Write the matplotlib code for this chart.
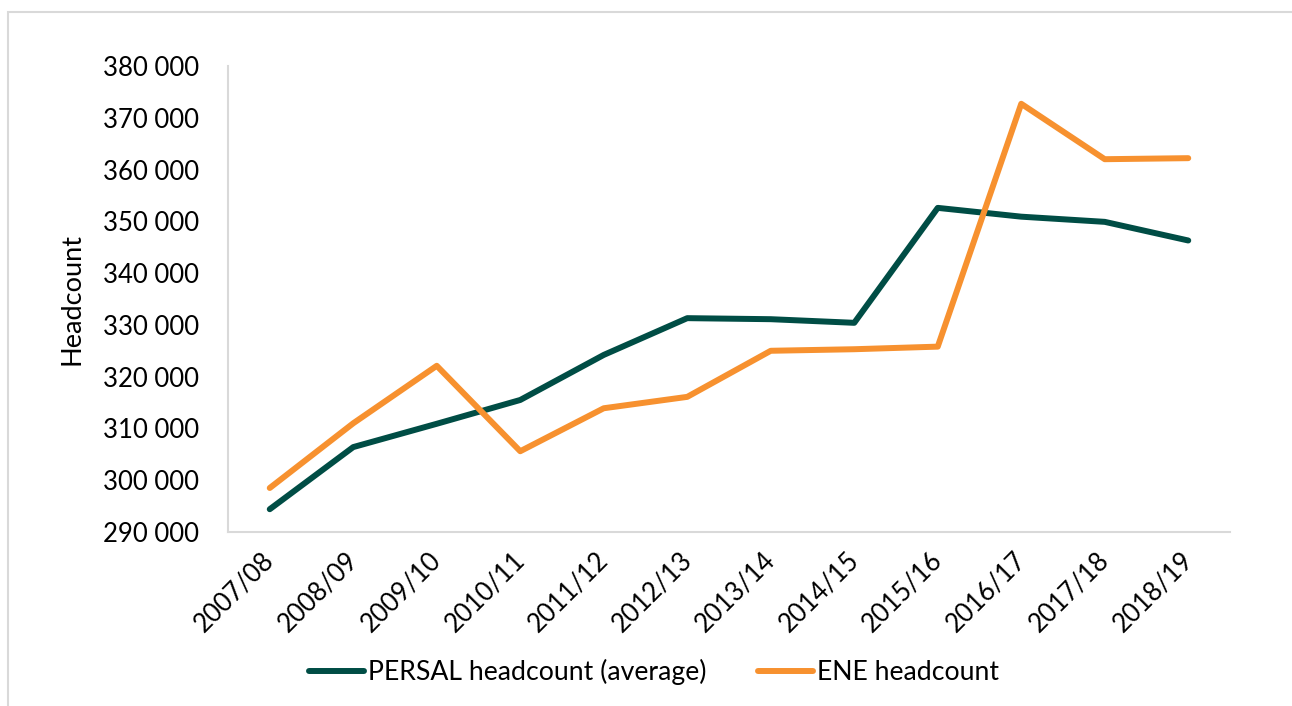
import matplotlib.pyplot as plt
import matplotlib.transforms as mtransforms
from matplotlib.patches import Rectangle
from matplotlib.ticker import FuncFormatter

years = ["2007/08", "2008/09", "2009/10", "2010/11", "2011/12", "2012/13",
         "2013/14", "2014/15", "2015/16", "2016/17", "2017/18", "2018/19"]
persal = [294400, 306400, 310900, 315500, 324200, 331300,
          331100, 330400, 352600, 350900, 349900, 346300]
ene = [298500, 311000, 322100, 305600, 313900, 316100,
       325000, 325300, 325800, 372700, 362000, 362200]

plt.rcParams["font.family"] = ["Lato", "DejaVu Sans"]

fig = plt.figure(figsize=(12.92, 7.06), dpi=100)
ax = fig.add_axes([228 / 1292, 1 - 532 / 706, (1230 - 228) / 1292, (532 - 66) / 706])

x = range(len(years))
ax.plot(x, persal, color="#004D45", linewidth=4.3, solid_capstyle="round",
        label="PERSAL headcount (average)")
ax.plot(x, ene, color="#F7912F", linewidth=4.3, solid_capstyle="round",
        label="ENE headcount")

ax.set_xlim(-0.5, len(years) - 0.5)
ax.set_ylim(290000, 380000)
ax.set_yticks(range(290000, 380001, 10000))
ax.yaxis.set_major_formatter(FuncFormatter(lambda v, p: f"{int(v):,}".replace(",", " ")))
ax.set_xticks(list(x))
ax.set_xticklabels(years, rotation=45, ha="right", rotation_mode="anchor")
ax.tick_params(axis="both", length=0, labelsize=18.5, colors="black")
ax.tick_params(axis="y", pad=21)
ax.tick_params(axis="x", pad=11)

# nudge the rotated year labels a little to the left
shift = mtransforms.ScaledTranslation(-6 / 72, 0, fig.dpi_scale_trans)
for lbl in ax.get_xticklabels():
    lbl.set_transform(lbl.get_transform() + shift)

for side in ["top", "right"]:
    ax.spines[side].set_visible(False)
for side in ["left", "bottom"]:
    ax.spines[side].set_color("#D9D9D9")
    ax.spines[side].set_linewidth(1.5)

ax.set_ylabel("Headcount", fontsize=19.5, labelpad=13)

ax.legend(loc="center", bbox_to_anchor=(654 / 1292, 1 - 672 / 706),
          bbox_transform=fig.transFigure, ncol=2, frameon=False,
          fontsize=19.2, handlelength=2.05, handletextpad=0.15, columnspacing=1.95)

# light outer frame
fig.patches.append(Rectangle((8 / 1292, -0.1), 1.2, 1 - 12 / 706 + 0.1,
                             transform=fig.transFigure, fill=False,
                             edgecolor="#D9D9D9", linewidth=1.5))

fig.savefig("out.png", dpi=100)
plt.close(fig)
